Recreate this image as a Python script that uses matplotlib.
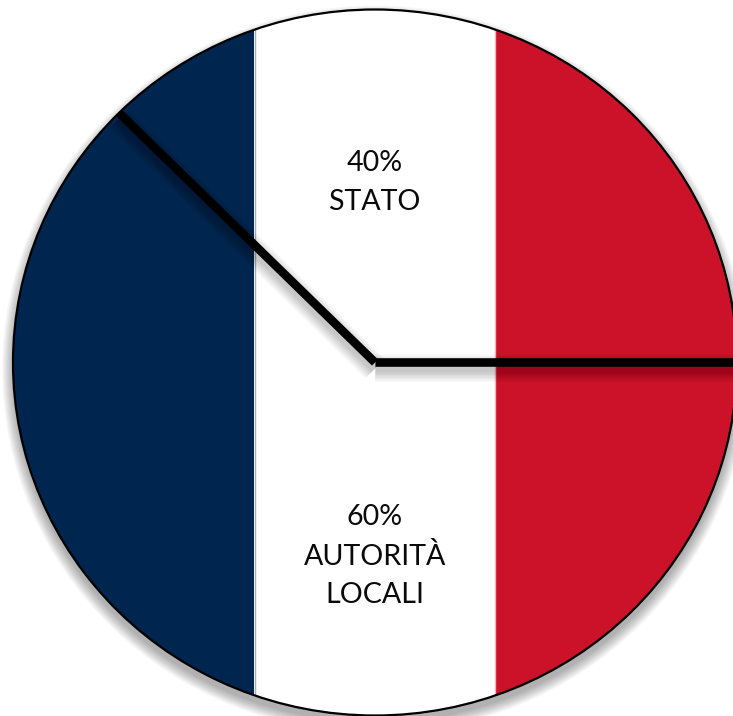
import numpy as np
import matplotlib
matplotlib.use("Agg")
import matplotlib.pyplot as plt
from matplotlib.patches import Ellipse

# Data
labels = ["40%\nSTATO", "60%\nAUTORITÀ\nLOCALI"]
shares_as_drawn = [37.5, 62.5]
stripe_edges = [-1.0, -1/3, 1/3, 1.0]
stripe_colors = ["#00264F", "#FFFFFF", "#CC1228"]

W, H = 733, 716
CX, CY = 375, 362.5
RX, RY = 362, 353

plt.rcParams['font.family'] = ['Lato', 'DejaVu Sans']
fig = plt.figure(figsize=(W/100, H/100), dpi=100, facecolor='white')
ax = fig.add_axes([0, 0, 1, 1])

px = 1 / RX
py = 1 / RY

# Pie
wedges, _ = ax.pie(shares_as_drawn, radius=1, center=(0, 0), startangle=0,
                   counterclock=True,
                   wedgeprops=dict(facecolor='none', edgecolor='none', zorder=3))
ax.set_aspect('auto')
ax.set_xlim(-CX/RX, (W-CX)/RX)
ax.set_ylim(-(H-CY)/RY, CY/RY)
ax.axis('off')

# Soft outer shadow
for i in range(14):
    grow = i * 0.85
    ax.add_patch(Ellipse((0, -7*py), 2*(RX+grow)*px, 2*(RY+grow)*py,
                         facecolor='black', edgecolor='none', alpha=0.022, zorder=1))

# Disc background and stripes
clip = Ellipse((0, 0), 2, 2, transform=ax.transData)
for left, right, col in zip(stripe_edges[:-1], stripe_edges[1:], stripe_colors):
    sp = ax.axvspan(left, right, color=col, lw=0, zorder=2)
    sp.set_clip_path(clip)
for x, c in ((stripe_edges[1], "#9DB0C8"), (stripe_edges[2], "#EBB5BC")):
    ln = ax.axvline(x + (1 if x < 0 else -1)*0.6*px, color=c, lw=1.0, zorder=2.5)
    ln.set_clip_path(clip)

# Disc outline
ax.add_patch(Ellipse((0, 0), 2, 2, facecolor='none', edgecolor='black', lw=1.6, zorder=5))

# Radial separators with soft shadow, taken from the wedge angles
angles = [wedges[0].theta1, wedges[0].theta2]
for a in angles:
    xe, ye = np.cos(np.radians(a)), np.sin(np.radians(a))
    for i in range(14):
        s, = ax.plot([0, xe], [-6*py, ye - 6*py], color='black', lw=6 + i*1.1,
                     alpha=0.016, solid_capstyle='butt', zorder=3)
        s.set_clip_path(clip)
for a in angles:
    xe, ye = np.cos(np.radians(a)), np.sin(np.radians(a))
    ax.plot([0, xe], [0, ye], color='black', lw=6.2, solid_capstyle='butt',
            zorder=6)

# Labels
ax.text(CX/W, 1 - 182.5/H, labels[0], transform=ax.transAxes, ha='center', va='center',
        fontsize=20.6, color='#0A0A0A', linespacing=1.59, zorder=7)
ax.text(CX/W, 1 - 556/H, labels[1], transform=ax.transAxes, ha='center', va='center',
        fontsize=20.6, color='#0A0A0A', linespacing=1.59, zorder=7)

fig.savefig("out.png", dpi=100, facecolor='white')
